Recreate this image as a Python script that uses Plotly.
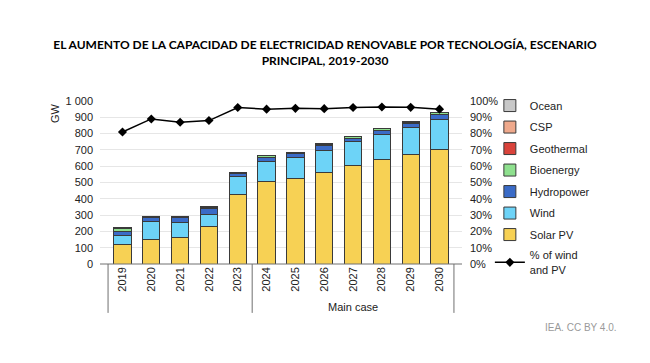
import plotly.graph_objects as go

years = ["2019", "2020", "2021", "2022", "2023", "2024", "2025", "2026", "2027", "2028", "2029", "2030"]
solar_pv   = [118, 152, 162, 230, 425, 504, 527, 561, 602, 639, 672, 705]
wind       = [58, 106, 92, 73, 114, 125, 125, 138, 148, 158, 166, 182]
hydropower = [25, 26, 30, 37, 16, 26, 23, 26, 22, 23, 23, 29]
bioenergy  = [18, 7, 7, 8, 6, 8, 8, 9, 9, 10, 10, 12]
geothermal = [1, 1, 1, 1, 1, 2, 2, 2, 2, 2, 2, 2]
csp        = [1, 1, 1, 1, 1, 1, 1, 2, 2, 2, 2, 2]
ocean      = [0, 0, 0, 0, 0, 0, 0, 0, 0, 0, 0, 0.5]
share_wind_pv = [0.81, 0.89, 0.87, 0.88, 0.96, 0.95, 0.955, 0.953, 0.96, 0.963, 0.961, 0.95]

gw_ticks = [0, 100, 200, 300, 400, 500, 600, 700, 800, 900, 1000]
gw_labels = ["0", "100", "200", "300", "400", "500", "600", "700", "800", "900", "1 000"]

series = [
    ("Solar PV", solar_pv, "#F7D154"),
    ("Wind", wind, "#6DD3F7"),
    ("Hydropower", hydropower, "#3A6BC7"),
    ("Bioenergy", bioenergy, "#8EE08E"),
    ("Geothermal", geothermal, "#D9433B"),
    ("CSP", csp, "#EFA98C"),
    ("Ocean", ocean, "#C8C8C8"),
]

fig = go.Figure()
n = len(series)
for i, (name, vals, col) in enumerate(series):
    fig.add_trace(go.Bar(
        x=years, y=vals, name=name, marker=dict(color=col, line=dict(color="#3A3A3A", width=1)),
        legendrank=n - i, legendgroup=name,
    ))
fig.add_trace(go.Scatter(
    x=years, y=share_wind_pv, name="% of wind<br>and PV", yaxis="y2",
    mode="lines+markers", line=dict(color="black", width=1.5),
    marker=dict(symbol="diamond", size=7, color="black"),
    legendrank=n + 1, legendgroup="share",
))

# the page body adds an 8px offset; figure is sized to fill the rest
W, H = 642, 355
font = "Liberation Sans, Arial, sans-serif"
fig.update_layout(
    width=W, height=H,
    barmode="stack", bargap=0.4,
    plot_bgcolor="white", paper_bgcolor="white",
    margin=dict(l=92, r=188, t=93, b=99, autoexpand=False),
    font=dict(family=font, size=11, color="#222"),
    title=dict(
        text="EL AUMENTO DE LA CAPACIDAD DE ELECTRICIDAD RENOVABLE POR TECNOLOGÍA, ESCENARIO<br>PRINCIPAL, 2019-2030",
        x=317 / W, xref="container", xanchor="center", y=1 - 41 / H, yref="container", yanchor="middle",
        font=dict(family="Lato, sans-serif", size=12, color="black", weight="bold"),
    ),
    xaxis=dict(type="category", tickangle=-90, showgrid=False, ticks="", showline=False,
               tickfont=dict(size=11, color="#222"), automargin=False),
    yaxis=dict(range=[0, 1000], tickvals=gw_ticks, ticktext=gw_labels, showgrid=True,
               gridcolor="#E6E6E6", zeroline=False, showline=False, ticks="",
               tickfont=dict(size=11, color="#222"), automargin=False, ticklabelstandoff=6),
    yaxis2=dict(range=[0, 1], overlaying="y", side="right", tickformat=".0%", dtick=0.1,
                showgrid=False, zeroline=False, showline=False, ticks="",
                tickfont=dict(size=11, color="#222"), automargin=False, ticklabelstandoff=7),
    legend=dict(x=1.077, xanchor="left", y=1.061, yanchor="top", traceorder="grouped",
                tracegroupgap=2.5, font=dict(size=11, color="#222"), bgcolor="rgba(0,0,0,0)",
                maxheight=300),
    showlegend=True,
)

# category box lines below the axis
line_col = "#707070"
fig.add_shape(type="line", xref="paper", yref="paper", x0=0, x1=1, y0=0, y1=0,
              line=dict(color=line_col, width=1))
for xpos in [-0.5, 4.5, 11.5]:
    fig.add_shape(type="line", xref="x", yref="paper", x0=xpos, x1=xpos, y0=0, y1=-0.3,
                  line=dict(color=line_col, width=1))

fig.add_annotation(text="Main case", xref="x", yref="paper", x=8, y=-0.264, showarrow=False,
                   font=dict(size=11, color="#222"), yanchor="middle")
fig.add_annotation(text="GW", xref="paper", yref="paper", x=-0.124, y=1.0, textangle=-90,
                   showarrow=False, xanchor="center", yanchor="top", font=dict(size=11, color="#222"))
fig.add_annotation(text="IEA. CC BY 4.0.", xref="paper", yref="paper", x=1.33, y=-0.39,
                   showarrow=False, xanchor="center", yanchor="middle", font=dict(size=10, color="#9A9A9A"))

fig.write_html("out.html")
